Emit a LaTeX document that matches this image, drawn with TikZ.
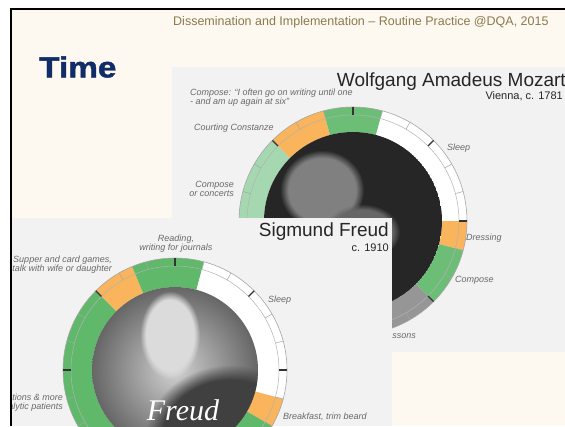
\documentclass[tikz,border=0pt]{standalone}
\usepackage{fontspec}
\setmainfont{Liberation Sans}
\newfontfamily\timefont[FakeBold=1.5,FakeStretch=1.15]{Liberation Sans Bold}
\newfontfamily\sigfont{Liberation Serif}
\usetikzlibrary{calc,fadings}
\definecolor{cream}{RGB}{253,248,240}
\definecolor{panel}{RGB}{242,242,242}
\definecolor{gdark}{RGB}{96,184,106}
\definecolor{gmid}{RGB}{108,190,118}
\definecolor{glight}{RGB}{165,216,176}
\definecolor{orng}{RGB}{249,180,92}
\definecolor{lessgray}{RGB}{150,150,150}
\definecolor{lblgray}{RGB}{105,105,105}
\definecolor{hdr}{RGB}{140,122,78}
\definecolor{navy}{RGB}{16,45,104}
% center, start, end (clock degrees), colour, outer radius, inner radius
\newcommand\ringseg[6]{%
  \fill[#4] ($(#1)+({#2-90}:#5)$) arc[start angle={#2-90}, end angle={#3-90}, radius=#5]
    -- ($(#1)+({#3-90}:#6)$) arc[start angle={#3-90}, end angle={#2-90}, radius=#6] -- cycle;}
% center, outer radius, band radius
\newcommand\ringdeco[3]{%
  \draw[rimline] (#1) circle[radius=#2];
  \draw[bandline] (#1) circle[radius=#3];
  \foreach \a in {0,15,...,345}
    \draw[hourtick] ($(#1)+({\a-90}:#3)$) -- ($(#1)+({\a-90}:#2)$);
  \foreach \a in {0,45,...,315}
    \draw[maintick] ($(#1)+({\a-90}:#3)$) -- ($(#1)+({\a-90}:#2)$);}
\begin{document}
\begin{tikzpicture}[x=1pt,y=-1pt,
  lbl/.style={font=\fontsize{9}{9.5}\selectfont\itshape, text=lblgray, inner sep=0pt, align=left},
  lblr/.style={lbl, align=right},
  lblc/.style={lbl, align=center},
  bigname/.style={font=\fontsize{19}{20}\selectfont, text=black!85, inner sep=0pt},
  subname/.style={font=\fontsize{11}{12}\selectfont, text=black!85, inner sep=0pt},
  rimline/.style={draw=black!35, line width=0.6pt},
  bandline/.style={draw=black!30, line width=0.5pt},
  hourtick/.style={draw=black!35, line width=0.5pt},
  maintick/.style={draw=black!80, line width=1.2pt},
  soft/.style={path fading=circle with fuzzy edge 20 percent}]
\useasboundingbox (0,0) rectangle (565,426);
\fill[white] (0,0) rectangle (565,426);
\fill[cream] (11,9) rectangle (565,426);

% ---------- Mozart panel ----------
\begin{scope}
\clip (172,67) rectangle (565,352);
\fill[panel] (172,67) rectangle (565,352);
\coordinate (mc) at (353,221);
\ringseg{mc}{315}{345}{orng}{114}{89}
\ringseg{mc}{345}{375}{gmid}{114}{89}
\ringseg{mc}{15}{90}{white}{114}{89}
\ringseg{mc}{90}{105}{orng}{114}{89}
\ringseg{mc}{105}{135}{gmid}{114}{89}
\ringseg{mc}{135}{195}{lessgray}{114}{89}
\ringseg{mc}{195}{315}{glight}{114}{89}
\ringdeco{mc}{114}{106}
\begin{scope}
\clip (mc) circle[radius=89];
\fill[black!85] (mc) circle[radius=89];
\fill[black!50, soft] (322,190) ellipse[x radius=42, y radius=40];
\fill[black!60, soft] (362,232) ellipse[x radius=38, y radius=28];
\end{scope}
\node[bigname, anchor=base east] (mtitle) at (566,86) {Wolfgang Amadeus Mozart};
\node[subname, anchor=base east] (msub) at (563,99) {Vienna, c. 1781};
\node[lbl, anchor=west] (m1) at (190,97.5) {Compose: ``I often go on writing until one\\- and am up again at six''};
\node[lbl, anchor=west] (m2) at (194,128) {Courting Constanze};
\node[lblr, anchor=east] (m3) at (234,189) {Compose\\or concerts};
\node[lbl, anchor=west] (m4) at (447,148) {Sleep};
\node[lbl, anchor=west] (m5) at (466,238) {Dressing};
\node[lbl, anchor=west] (m6) at (455,280) {Compose};
\node[lbl, anchor=east] (m7) at (416,335) {Lessons};
\end{scope}

% ---------- Freud panel ----------
\begin{scope}
\clip (12,218) rectangle (392,426);
\fill[panel] (12,218) rectangle (392,426);
\coordinate (fc) at (175,370);
\ringseg{fc}{315}{337.5}{orng}{112}{83}
\ringseg{fc}{337.5}{375}{gdark}{112}{83}
\ringseg{fc}{15}{105}{white}{112}{83}
\ringseg{fc}{105}{120}{orng}{112}{83}
\ringseg{fc}{120}{315}{gdark}{112}{83}
\ringdeco{fc}{112}{104}
\begin{scope}
\clip (fc) circle[radius=83];
\shade[inner color=black!18, outer color=black!60] (fc) circle[radius=83];
\fill[black!14, soft] (170,335) ellipse[x radius=30, y radius=44];
\fill[black!75, soft] (230,440) ellipse[x radius=85, y radius=75];
\end{scope}
\node[text=white, font=\sigfont\itshape\fontsize{30}{30}\selectfont, inner sep=0pt] (sig) at (183,410) {Freud};
\node[bigname, anchor=base east] (ftitle) at (389,236) {Sigmund Freud};
\node[subname, anchor=base east] (fsub) at (389,251) {c. 1910};
\node[lblc] (f1) at (176,243.5) {Reading,\\writing for journals};
\node[lblr, anchor=east] (f2) at (112,264.5) {Supper and card games,\\talk with wife or daughter};
\node[lbl, anchor=west] (f3) at (268,300) {Sleep};
\node[lblr, anchor=east] (f4) at (63,402.5) {Consultations \& more\\analytic patients};
\node[lbl, anchor=west] (f5) at (283,417) {Breakfast, trim beard};
\end{scope}

% ---------- slide ----------
\draw[line width=2pt] (11,426) -- (11,9) -- (565,9);
\node[anchor=west, font=\fontsize{12.5}{14}\selectfont, text=hdr, inner sep=0pt] (hdr) at (173,22) {Dissemination and Implementation – Routine Practice @DQA, 2015};
\node[anchor=west, font=\timefont\fontsize{29}{30}\selectfont, text=navy, inner sep=0pt] (time) at (39,67) {Time};
\end{tikzpicture}
\end{document}
